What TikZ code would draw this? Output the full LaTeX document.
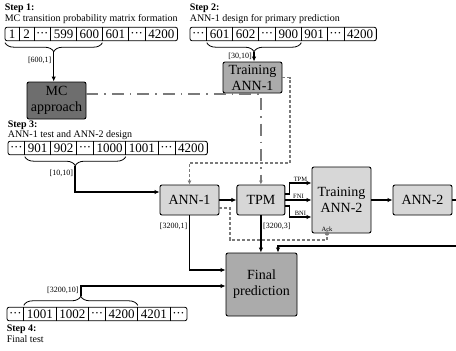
\documentclass[tikz,border=0pt]{standalone}
\usepackage{fontspec}
\setmainfont{Liberation Serif}
\usetikzlibrary{arrows.meta,positioning,fit,calc,decorations.pathreplacing}
\definecolor{DarkBox}{HTML}{6E6E6E}
\definecolor{MidBox}{HTML}{ABABAB}
\definecolor{LightBox}{HTML}{D7D7D7}
\definecolor{LineGray}{HTML}{7A7A7A}
\newcommand{\celldots}{\kern-1pt\raisebox{1pt}{\textperiodcentered\kern-.3pt\textperiodcentered\kern-.3pt\textperiodcentered}\kern-1pt}
% one row of data cells, chained left to right
\newcommand{\datarow}[3]{%
  \foreach \lab [count=\i, remember=\i as \j (initially 0)] in {#3}{%
    \ifnum\i=1 \node[cell,anchor=west] (#1\i) at (#2) {\lab};%
    \else \node[cell,right=0pt of #1\j] (#1\i) {\lab};\fi}}

\begin{document}
\begin{tikzpicture}[x=1pt,y=-1pt,
  cell/.style={font=\fontsize{13}{13}\selectfont,inner xsep=3pt,inner ysep=1pt,minimum width=14pt,minimum height=13pt,text height=9.5pt,text depth=0.5pt},
  rowframe/.style={draw,line width=0.8pt,rounded corners=2pt,inner sep=0pt},
  sep/.style={line width=0.6pt},
  desc/.style={font=\fontsize{10}{10}\selectfont,inner sep=0pt,anchor=base west},
  steptitle/.style={desc,font=\fontsize{10}{10}\selectfont\bfseries},
  box/.style={draw,line width=0.9pt,rounded corners=2pt,align=center,font=\fontsize{14}{16}\selectfont,inner sep=0pt},
  lbl/.style={font=\fontsize{8}{8}\selectfont,inner sep=1.5pt},
  tiny/.style={font=\fontsize{6.5}{6.5}\selectfont,inner sep=1pt},
  arr/.style={-{Latex[length=5pt,width=4.5pt]},line width=1.6pt},
  brc/.style={decorate,decoration={brace,mirror,amplitude=9pt,raise=2pt},line width=0.8pt},
  brcup/.style={decorate,decoration={brace,amplitude=9pt,raise=2pt},line width=0.8pt},
  mcline/.style={-{Latex[length=4pt,width=4pt]},LineGray,line width=1.8pt,dash pattern=on 12pt off 6pt on 1.5pt off 6pt},
  annline/.style={LineGray,line width=1.5pt,dash pattern=on 3pt off 2pt}]
  \useasboundingbox (0,0) rectangle (456,351);

  % data rows
  \datarow{ra}{5,34}{1,2,\celldots,599,600,601,\celldots,4200}
  \datarow{rb}{190,34}{\celldots,601,602,\celldots,900,901,\celldots,4200}
  \datarow{rc}{8,148}{\celldots,901,902,\celldots,1000,1001,\celldots,4200}
  \datarow{rd}{7,314}{\celldots,1001,1002,\celldots,4200,4201,\celldots}
  \node[rowframe,fit=(ra1)(ra8)] (rowa) {};
  \node[rowframe,fit=(rb1)(rb8)] (rowb) {};
  \node[rowframe,fit=(rc1)(rc8)] (rowc) {};
  \node[rowframe,fit=(rd1)(rd7)] (rowd) {};
  \foreach \r in {ra,rb,rc}{\foreach \i in {1,...,7}{\draw[sep] (\r\i.north east) -- (\r\i.south east);}}
  \foreach \i in {1,...,6}{\draw[sep] (rd\i.north east) -- (rd\i.south east);}

  % step texts
  \node[desc] (desca) at ([yshift=5pt]rowa.north west) {MC transition probability matrix formation};
  \node[steptitle] (stepa) at ([yshift=11pt]desca.base west) {Step 1:};
  \node[desc] (descb) at ([yshift=5pt]rowb.north west) {ANN-1 design for primary prediction};
  \node[steptitle] (stepb) at ([yshift=11pt]descb.base west) {Step 2:};
  \node[desc] (descc) at ([yshift=3.5pt]rowc.north west) {ANN-1 test and ANN-2 design};
  \node[steptitle] (stepc) at ([yshift=10pt]descc.base west) {Step 3:};
  \node[steptitle] (stepd) at ([yshift=-10pt]rowd.south west) {Step 4:};
  \node[desc] (descd) at ([yshift=-11pt]stepd.base west) {Final test};

  % braces
  \draw[brc] (ra1.south west) -- (ra5.south east);
  \draw[brc] (rb2.south west) -- (rb5.south east);
  \draw[brc] (rc2.south west) -- (rc5.south east);
  \draw[brcup] (rd2.north west) -- (rd5.north east);
  \coordinate (ta) at ($(ra1.south west)!.5!(ra5.south east)+(0,11)$);
  \coordinate (tb) at ($(rb2.south west)!.5!(rb5.south east)+(0,11)$);
  \coordinate (tc) at ($(rc2.south west)!.5!(rc5.south east)+(0,11)$);
  \coordinate (td) at ($(rd2.north west)!.5!(rd5.north east)+(0,-11)$);

  % blocks
  \node[box,fill=DarkBox,minimum width=59pt,minimum height=37pt] (mc) at (56.5,100.5) {MC\\approach};
  \node[box,fill=MidBox,minimum width=59pt,minimum height=31pt] (tann1) at (252.5,77.5) {Training\\ANN-1};
  \node[box,fill=LightBox,minimum width=59pt,minimum height=30pt] (ann1) at (189.5,200) {ANN-1};
  \node[box,fill=LightBox,minimum width=48pt,minimum height=30pt,right=17pt of ann1] (tpm) {TPM};
  \node[box,fill=LightBox,minimum width=59pt,minimum height=66pt] (tann2) at (341.5,200) {Training\\ANN-2};
  \node[box,fill=LightBox,minimum width=59pt,minimum height=30pt] (ann2) at (422.5,200) {ANN-2};
  \node[box,fill=MidBox,minimum width=71pt,minimum height=63pt] (fin) at (261.5,284.5) {Final\\prediction};

  % gray links
  \coordinate (turn) at (290,163);
  \coordinate (ackturn) at (230,240);
  \coordinate (ack) at ([xshift=-14.5pt]tann2.south);
  \draw[mcline] ([yshift=6.5pt]mc.east) -| (tpm.north);
  \draw[annline,-{Latex[length=4pt,width=4pt]}] (tann1.east) -| (turn) -| (ann1.north);
  \draw[annline] ([yshift=-8pt]ann1.east) -| (ackturn) -| (ack);
  \fill[LineGray] (ack) circle (2.2pt);
  \node[tiny,above=1pt of ack] (acklbl) {Ack};

  % data flow
  \draw[arr] (ta) -- (ta |- mc.north) node[lbl,left,pos=0.3] {[600,1]};
  \draw[arr] (tb) -- (tb |- tann1.north) node[lbl,left,pos=0.5] {[30,10]};
  \draw[arr] (tc) |- ([yshift=8pt]ann1.west) node[lbl,left,pos=0.15] {[10,10]};
  \draw[arr] (ann1) -- (tpm);
  \draw[arr] ([yshift=6pt]tpm.east) -- ++(4,0) |- ([yshift=17pt]tann2.west) node[tiny,above,pos=0.75] {TPM};
  \draw[arr] (tpm) -- (tann2) node[tiny,above,midway] {FNI};
  \draw[arr] ([yshift=-6pt]tpm.east) -- ++(4,0) |- ([yshift=-17pt]tann2.west) node[tiny,above,pos=0.75] {BNI};
  \draw[arr] (tann2) -- (ann2);
  \coordinate (ret) at (466,246);
  \draw[arr] (ann2.east) -| (ret) -| ([xshift=16.5pt]fin.north);
  \draw[arr] (tpm.south) -- (tpm.south |- fin.north) node[lbl,right,pos=0.3] {[3200,3]};
  \draw[arr] (ann1.south) |- ([yshift=14.5pt]fin.west) node[lbl,left,pos=0.1] {[3200,1]};
  \draw[arr] (td) |- ([yshift=-1.5pt]fin.west) node[lbl,pos=0,above left] {[3200,10]};
\end{tikzpicture}
\end{document}
